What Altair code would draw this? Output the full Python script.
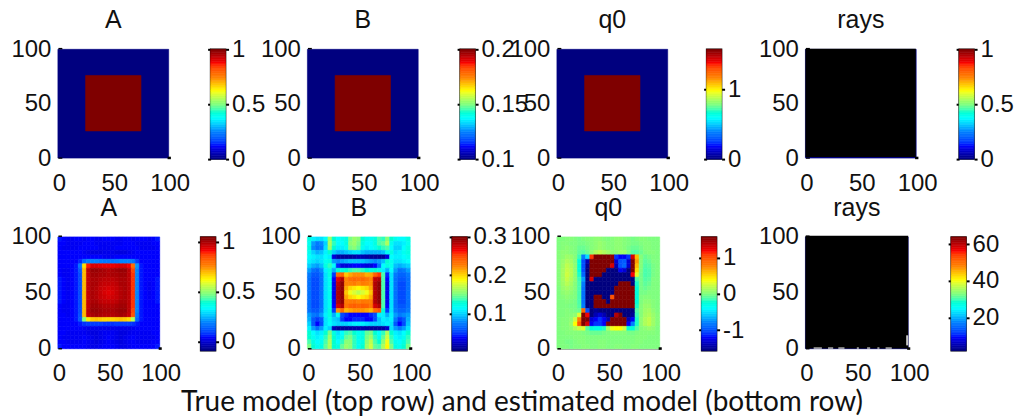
import altair as alt
import numpy as np
import pandas as pd

FONT = "Liberation Sans"
CAPTION = "True model (top row) and estimated model (bottom row)"
JET = ["#00007f", "#0000ff", "#007fff", "#00ffff", "#7fff7f", "#ffff00", "#ff7f00", "#ff0000", "#7f0000"]
AXIS_TICKS = [0, 50, 100]

# True model: background and central square, (x0, x1, y0, y1, fraction of range)
TRUE_X0 = [0, 25]
TRUE_X1 = [100, 75]
TRUE_Y0 = [0, 25]
TRUE_Y1 = [100, 76]
TRUE_LEVEL = [0, 1]

# Colour bar limits and ticks
BAR_A = (0, 1, [0, 0.5, 1])
BAR_B = (0.1, 0.2, [0.1, 0.15, 0.2])
BAR_Q = (0, 1.57, [0, 1])
BAR_R = (0, 1, [0, 0.5, 1])
BAR_AH = (-0.09, 1.05, [0, 0.5, 1])
BAR_BH = (0.003, 0.3, [0.1, 0.2, 0.3])
BAR_QH = (-1.57, 1.57, [-1, 0, 1])
BAR_RH = (2, 64, [20, 40, 60])

# Estimated A, in hundredths, top row first
A_HAT = [
 [6,5,4,4,5,5,4,5,5,4,4,5,5,5,4,4,5,5,4,5,5,5,4,5,6],
 [5,5,4,4,4,4,5,5,5,4,4,4,4,4,4,4,5,5,5,4,4,4,4,5,5],
 [5,4,4,4,4,5,5,5,5,5,4,4,4,4,5,5,5,5,5,5,4,4,4,4,5],
 [5,5,5,5,5,5,4,3,2,2,2,3,3,3,2,2,2,3,4,5,5,5,5,5,5],
 [5,5,5,5,5,5,5,5,5,5,5,4,4,4,5,5,5,5,5,5,5,5,5,5,5],
 [5,5,5,5,5,7,16,20,20,20,19,18,18,18,19,20,20,20,18,9,5,5,5,5,5],
 [5,5,5,5,6,18,66,90,95,95,94,93,93,93,94,95,95,92,80,22,6,5,5,5,5],
 [5,4,4,5,6,13,70,98,102,102,101,100,99,100,101,102,102,98,86,20,6,5,5,5,5],
 [5,4,4,5,6,11,70,97,101,101,100,100,99,100,100,101,101,98,88,20,6,5,5,5,5],
 [6,5,4,5,6,11,70,97,100,100,99,98,98,98,99,100,100,98,88,20,6,5,5,5,6],
 [6,5,4,5,6,11,70,97,100,100,98,97,97,97,98,100,100,98,88,20,6,5,4,5,6],
 [6,5,4,5,6,11,70,97,100,99,97,96,95,96,97,99,100,98,88,20,6,5,4,5,6],
 [6,5,4,5,6,11,70,97,100,99,97,95,94,95,97,99,100,98,88,20,6,5,4,5,6],
 [6,5,4,5,6,11,70,97,100,99,97,96,95,96,97,99,100,98,88,20,6,5,4,5,6],
 [6,5,4,5,6,11,70,97,100,100,98,97,97,97,98,100,100,98,88,20,6,5,5,5,6],
 [5,4,4,5,6,11,70,97,101,101,100,99,99,99,100,101,101,98,88,20,6,5,5,5,5],
 [5,4,4,5,6,11,70,98,102,102,101,100,100,100,101,102,102,98,86,20,6,5,5,5,5],
 [5,5,4,5,6,12,70,97,100,101,100,99,99,99,100,101,100,97,84,18,6,5,5,5,5],
 [5,5,5,5,6,13,48,64,68,69,68,67,67,67,68,69,68,66,54,15,6,5,5,5,5],
 [5,5,5,5,5,6,8,9,9,9,9,8,8,8,9,9,9,9,8,6,5,5,5,5,5],
 [5,5,5,5,5,5,4,3,3,3,3,3,3,3,3,3,3,3,4,5,5,5,5,5,5],
 [5,5,4,4,4,4,4,3,2,2,3,4,4,4,3,2,2,3,4,4,4,4,4,5,5],
 [5,4,4,4,4,4,5,4,3,2,3,4,5,4,3,2,3,4,5,4,4,4,4,4,5],
 [5,5,4,4,4,4,5,4,3,2,3,4,5,4,3,2,3,4,5,4,4,4,4,5,5],
 [6,5,5,5,5,5,5,4,3,3,4,5,5,5,4,3,3,4,5,5,5,5,5,5,6],
]

# Estimated B, in thousandths
B_HAT = [
 [125,110,105,105,115,160,130,115,120,125,150,160,155,130,120,120,125,140,135,155,130,120,115,115,125],
 [120,85,75,80,100,165,135,115,115,125,155,160,150,125,115,115,125,140,145,165,120,105,105,110,120],
 [125,80,70,75,105,160,130,110,110,120,150,155,145,120,110,115,120,130,135,140,115,100,100,115,125],
 [120,100,90,95,110,130,100,90,90,95,100,105,105,95,90,90,90,90,95,120,125,105,110,120,125],
 [115,110,105,105,115,110,30,15,12,12,12,15,18,18,15,12,12,10,12,30,115,110,110,115,120],
 [110,105,100,105,120,125,85,80,85,90,95,95,95,95,90,85,80,85,95,130,120,105,105,110,115],
 [100,90,85,95,125,135,115,45,30,30,35,40,40,35,30,30,40,70,115,125,120,95,90,95,100],
 [85,70,65,80,110,125,90,130,125,130,135,140,140,135,130,125,130,125,110,90,115,85,70,75,85],
 [75,60,60,70,105,125,50,235,240,205,215,222,222,222,212,215,240,255,140,45,105,75,65,65,75],
 [70,55,55,70,105,120,40,270,285,225,235,238,235,238,232,225,280,285,140,40,105,70,60,60,70],
 [70,55,55,70,105,120,35,280,295,225,225,228,222,228,225,222,285,295,140,35,105,70,55,55,70],
 [70,55,55,70,105,120,35,285,295,215,200,195,190,195,200,215,285,295,140,35,105,70,55,55,70],
 [70,55,55,70,105,120,35,285,295,205,185,178,170,178,185,205,285,295,140,35,105,70,55,55,70],
 [70,55,55,70,105,120,35,285,295,215,200,195,188,195,200,215,285,295,140,35,105,70,55,55,70],
 [70,55,55,70,105,120,35,285,295,228,228,230,225,230,228,228,285,295,140,35,105,70,55,55,70],
 [70,55,55,70,105,120,40,275,285,232,240,242,238,242,240,232,275,285,140,40,105,70,60,60,70],
 [70,60,60,75,105,125,50,220,235,210,215,220,220,220,215,210,235,245,130,50,105,75,65,65,75],
 [85,75,70,85,110,125,90,120,55,45,40,40,40,40,40,45,55,110,110,90,110,85,75,80,85],
 [90,60,50,60,105,120,100,95,50,40,40,45,45,45,40,40,55,95,110,105,110,75,50,60,90],
 [100,60,40,55,105,115,105,100,100,100,105,110,110,110,105,100,100,100,105,110,105,60,40,55,95],
 [110,85,70,85,110,100,20,12,12,12,14,16,16,16,14,12,12,12,14,25,105,85,75,85,105],
 [130,115,105,110,130,150,125,105,115,135,140,130,120,125,145,150,130,115,135,165,130,110,105,115,130],
 [130,120,110,115,135,160,130,110,120,145,150,135,120,125,150,160,135,120,145,175,135,115,110,120,135],
 [140,125,115,120,140,165,130,115,135,155,155,135,120,125,155,170,140,130,155,185,140,120,115,125,140],
 [150,130,120,125,145,165,130,125,145,160,155,135,120,130,160,175,145,140,165,190,150,125,120,130,150],
]

# Estimated q0, in hundredths
Q_HAT = [
 [0,0,2,2,0,-2,0,2,2,5,5,2,0,2,5,5,2,0,-2,0,2,2,0,0,0],
 [0,2,2,0,0,-2,-2,0,2,5,8,5,2,2,5,5,2,0,-2,-2,0,2,2,0,0],
 [0,2,5,2,0,-5,-5,-2,2,5,8,5,2,2,5,5,2,-2,-5,-5,-2,2,2,0,0],
 [2,5,5,2,0,-8,-10,-5,5,15,20,15,10,5,5,10,10,0,-10,-10,-5,0,2,2,0],
 [2,5,10,8,2,-15,-80,-50,110,157,157,157,157,150,-110,-120,-120,-110,130,60,2,-5,-2,0,0],
 [2,8,15,12,2,-25,-100,-140,157,157,157,157,157,157,-130,-100,-95,-130,157,70,2,-8,-5,0,0],
 [2,10,20,15,5,-25,-100,-150,157,157,157,157,157,130,-140,-100,-90,-130,157,60,2,-10,-8,-2,0],
 [2,12,22,18,5,-25,-100,-157,157,157,157,157,-157,-157,-157,-120,-130,-157,157,50,0,-12,-10,-2,0],
 [2,12,25,18,5,-20,-90,-157,157,157,157,-157,-157,-157,-157,-157,-157,-157,120,30,-2,-12,-10,-2,0],
 [2,12,22,15,5,-15,-70,-157,130,-157,-157,-157,-157,-157,-157,-157,-157,-157,-157,-10,-2,-10,-8,0,0],
 [2,10,18,12,2,-12,-80,-157,-157,-157,-157,-157,-157,-157,-157,157,157,157,-157,-20,-2,-8,-5,0,0],
 [0,8,12,8,2,-12,-85,-157,-157,-157,-157,-157,-157,-157,157,157,157,157,157,-25,-2,-5,-2,0,0],
 [0,5,8,5,0,-12,-85,-157,-157,-157,-157,-157,-157,-157,157,157,157,157,157,-25,-2,-2,0,0,0],
 [0,2,5,2,0,-12,-85,-157,-157,157,157,-157,-157,100,157,157,157,157,157,-25,0,2,2,0,0],
 [0,0,2,0,-2,-12,-85,-157,-157,157,157,157,-157,157,157,157,157,157,157,-25,0,5,5,2,0],
 [0,0,0,-2,-2,-10,-80,-157,-157,157,157,157,157,157,157,157,157,157,157,-20,2,8,8,2,0],
 [0,0,2,0,-2,-5,90,-100,-157,-150,-157,-157,-157,-157,-157,-157,-157,-157,-157,-10,2,10,12,5,0],
 [0,0,2,2,5,30,157,120,-157,-140,-130,-140,-157,-157,140,157,-157,-157,-150,-15,2,12,15,8,2],
 [0,2,2,5,25,80,157,157,-130,-120,-110,-120,-140,157,157,157,157,-140,-120,-20,5,15,20,10,2],
 [0,2,2,8,40,100,157,130,-120,-110,-110,-120,157,157,157,157,157,-120,-80,-20,5,15,20,10,2],
 [0,2,2,5,15,25,30,-10,-25,-30,-30,-20,15,35,40,40,25,-25,-25,-10,2,5,8,5,0],
 [0,0,2,2,2,2,0,-2,-5,-5,-5,-2,0,2,2,2,2,-2,-2,0,2,2,2,2,0],
 [0,0,0,0,2,2,2,0,0,0,0,0,0,0,0,0,0,0,0,2,2,2,0,0,0],
 [0,0,-2,-2,0,2,2,0,0,0,2,2,0,0,0,0,0,0,0,2,2,0,0,0,0],
 [0,0,0,-2,0,0,2,2,0,0,2,2,0,0,2,2,0,0,2,2,0,0,0,0,0],
]

# Ray coverage (black) and the pale specks left along its edge
RAY_TOP = dict(x0=[0], x1=[99.6], y0=[1], y1=[100.6])
RAY_BOTTOM = dict(x0=[0], x1=[100], y0=[0.3], y1=[101])
SPECK_X0 = [8, 22, 32, 50, 60, 70, 78, 98]
SPECK_X1 = [16, 27, 38, 52, 63, 72, 84, 100]
SPECK_Y0 = [0, 0, 0, 0, 0, 0, 0, 3]
SPECK_Y1 = [1.2, 1.2, 1.2, 1.2, 1.2, 1.2, 1.2, 12]

# Corner tick stubs that stick out behind the image
STUB_X0 = [0.5, 0.5, 99]
STUB_X1 = [4, 4, 102]
STUB_Y0 = [100, -0.6, -1]
STUB_Y1 = [101.3, 0.6, 1.3]

# Gaps between views along a row (plot-area to plot-area)
TOP_W = [111, 15, 111, 15, 111, 15, 111, 15]
TOP_GAPS = [50, 42, 82, 42, 82, 39, 84, 43]
BOT_W = [102, 15, 103, 15, 103, 15, 103, 15]
BOT_GAPS = [50, 41, 92, 42, 90, 42, 89, 43]
PAD_TOP = 0
ROW_SPACING = 1


def color_scale(lo, hi):
    return alt.Scale(domain=[float(v) for v in np.linspace(lo, hi, len(JET))], range=JET)


def rect_enc(lo, hi):
    return dict(
        color=alt.Color("v:Q", scale=color_scale(lo, hi), legend=None),
        stroke=alt.Stroke("v:Q", scale=color_scale(lo, hi), legend=None),
    )


POS = alt.Scale(domain=[0, 100], nice=False, zero=False)


def pos_enc(x_axis, y_axis):
    return dict(
        x=alt.X("x0:Q", scale=POS, axis=x_axis),
        x2="x1:Q",
        y=alt.Y("y0:Q", scale=POS, axis=y_axis),
        y2="y1:Q",
    )


def grid_frame(grid, unit):
    assert len(grid) == 25 and all(len(r) == 25 for r in grid)
    step = 100 / 25
    rows = []
    for i, row_vals in enumerate(grid):
        for j, val in enumerate(row_vals):
            rows.append(dict(x0=j * step, x1=(j + 1) * step, y0=100 - (i + 1) * step, y1=100 - i * step, v=val * unit))
    return pd.DataFrame(rows)


def true_frame(lo, hi):
    return pd.DataFrame(dict(x0=TRUE_X0, x1=TRUE_X1, y0=TRUE_Y0, y1=TRUE_Y1,
                             v=[lo + l * (hi - lo) for l in TRUE_LEVEL]))


def axes(line=False):
    common = dict(values=AXIS_TICKS, title=None, grid=False, ticks=False, labelFontSize=24,
                  labelFont=FONT, labelColor="#111111", labelOverlap=False, labelFlush=False, labelBound=False)
    xa = alt.Axis(domain=line, domainColor="#888888", domainWidth=1, labelPadding=13, labelOffset=1, **common)
    ya = alt.Axis(domain=False, labelPadding=7, **common)
    return xa, ya


def black_rects(d, colour, xa, ya):
    return alt.Chart(pd.DataFrame(d)).mark_rect(color=colour, clip=False).encode(**pos_enc(xa, ya))


def panel(frame, lim, title, w, h, extras=(), line=False):
    lo, hi = lim[0], lim[1]
    xa, ya = axes(line)
    heat = alt.Chart(frame).mark_rect(strokeWidth=0.6).encode(**pos_enc(xa, ya), **rect_enc(lo, hi))
    stubs = black_rects(dict(x0=STUB_X0, x1=STUB_X1, y0=STUB_Y0, y1=STUB_Y1), "black", xa, ya)
    more = [black_rects(d, c, xa, ya) for d, c in extras]
    return alt.layer(heat, *more, stubs).properties(
        width=w, height=h,
        title=alt.TitleParams(title, font=FONT, fontSize=25, fontWeight="normal", color="#111111", offset=4),
        view=alt.ViewConfig(strokeWidth=0),
    )


def colorbar(lim, w, h):
    lo, hi, ticks = lim
    n = 64
    edges = np.linspace(lo, hi, n + 1)
    df = pd.DataFrame(dict(x0=[0.0] * n, x1=[1.0] * n, y0=edges[:-1], y1=edges[1:],
                           v=(edges[:-1] + edges[1:]) / 2))
    xs = alt.Scale(domain=[0, 1], nice=False, zero=False)
    ys = alt.Scale(domain=[lo, hi], nice=False, zero=False)
    left = alt.Axis(orient="left", values=ticks, title=None, grid=False, domain=False, labels=False,
                    tickSize=3, tickWidth=2, tickColor="black")
    right = alt.Axis(orient="right", values=ticks, title=None, grid=False, domain=False, tickSize=3,
                     tickWidth=2, tickColor="black", labelFontSize=24, labelFont=FONT, labelColor="#111111",
                     labelPadding=3, labelOverlap=False, labelBound=False, labelFlush=False,
                     format=".2~f", labelExpr="replace(datum.label, '\u2212', '-')")
    base = alt.Chart(df)
    a = base.mark_rect(strokeWidth=0.6).encode(x=alt.X("x0:Q", scale=xs, axis=None), x2="x1:Q",
                                               y=alt.Y("y0:Q", scale=ys, axis=left), y2="y1:Q",
                                               **rect_enc(lo, hi))
    b = base.mark_rect(opacity=0).encode(x=alt.X("x0:Q", scale=xs, axis=None), x2="x1:Q",
                                         y=alt.Y("y0:Q", scale=ys, axis=right), y2="y1:Q")
    return alt.layer(a, b).resolve_scale(y="independent").properties(
        width=w, height=h, view=alt.ViewConfig(stroke="#111111", strokeWidth=1.5))


def spacer(w, h):
    return alt.Chart(pd.DataFrame(dict(a=[0]))).mark_point(opacity=0).properties(
        width=w, height=h, view=alt.ViewConfig(strokeWidth=0))


def row(views, gaps):
    items = []
    for view, gap in zip(views, gaps):
        items += [spacer(gap, 1), view]
    return alt.hconcat(*items, spacing=0, bounds="flush").resolve_scale(color="independent", stroke="independent")


SPECKS = dict(x0=SPECK_X0, x1=SPECK_X1, y0=SPECK_Y0, y1=SPECK_Y1)

tH, bH = 109, 112
top = row([
    panel(true_frame(BAR_A[0], BAR_A[1]), BAR_A, "A", TOP_W[0], tH), colorbar(BAR_A, TOP_W[1], 110),
    panel(true_frame(BAR_B[0], BAR_B[1]), BAR_B, "B", TOP_W[2], tH), colorbar(BAR_B, TOP_W[3], 110),
    panel(true_frame(BAR_Q[0], BAR_Q[1]), BAR_Q, "q0", TOP_W[4], tH), colorbar(BAR_Q, TOP_W[5], 110),
    panel(true_frame(BAR_R[0], BAR_R[0]), BAR_R, "rays", TOP_W[6], tH, extras=[(RAY_TOP, "black")]),
    colorbar(BAR_R, TOP_W[7], 110),
], TOP_GAPS)

bottom = row([
    panel(grid_frame(A_HAT, 0.01), BAR_AH, "A", BOT_W[0], bH), colorbar(BAR_AH, BOT_W[1], 114),
    panel(grid_frame(B_HAT, 0.001), BAR_BH, "B", BOT_W[2], bH, line=True), colorbar(BAR_BH, BOT_W[3], 114),
    panel(grid_frame(Q_HAT, 0.01), BAR_QH, "q0", BOT_W[4], bH, line=True), colorbar(BAR_QH, BOT_W[5], 114),
    panel(true_frame(BAR_RH[0], BAR_RH[0]), BAR_RH, "rays", BOT_W[6], bH,
          extras=[(RAY_BOTTOM, "black"), (SPECKS, "#c8c8c8")]),
    colorbar(BAR_RH, BOT_W[7], 114),
], BOT_GAPS)

caption = alt.Chart(pd.DataFrame(dict(t=[CAPTION]))).mark_text(
    font="Lato", fontSize=28, color="#111111", align="center", baseline="alphabetic"
).encode(text="t:N", x=alt.value(515), y=alt.value(24)).properties(
    width=1000, height=28, view=alt.ViewConfig(strokeWidth=0))

chart = alt.vconcat(
    top, bottom, caption,
    spacing=ROW_SPACING,
).resolve_scale(color="independent", stroke="independent").properties(
    padding={"left": 0, "right": 0, "top": PAD_TOP, "bottom": 0}
).configure_view(strokeWidth=0).configure(background="white")

chart.save("out.html", embed_options={"renderer": "svg", "actions": False})
